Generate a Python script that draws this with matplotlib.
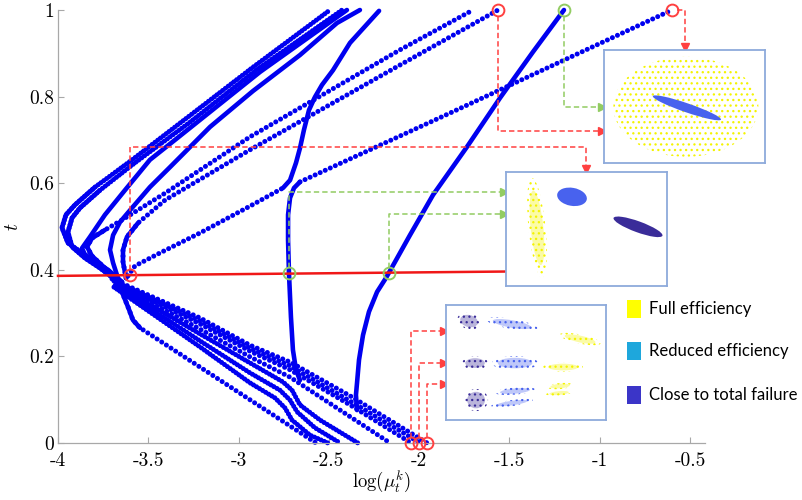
import matplotlib
matplotlib.use('Agg')
import matplotlib.pyplot as plt
from matplotlib.patches import Ellipse, Rectangle

plt.rcParams['mathtext.fontset'] = 'cm'
plt.rcParams['axes.unicode_minus'] = False
plt.rcParams['hatch.linewidth'] = 0.9

BLUE = '#0000f0'
RED = '#ff4040'
GREEN = '#92cc62'
FRAME = '#8eaadb'

# ---- trajectories: x = log(mu_t^k), t ----
# upper branches (from the crossing near t~0.38 up to t = 1)
a_x = [-3.695, -3.778, -3.867, -3.945, -3.978, -3.956, -3.906, -3.795, -3.590, -3.286, -2.920, -2.494]
a_t = [0.381, 0.416, 0.439, 0.462, 0.497, 0.527, 0.550, 0.591, 0.654, 0.751, 0.868, 1.000]
b_x = [-3.679, -3.767, -3.850, -3.922, -3.945, -3.922, -3.878, -3.767, -3.574, -3.269, -2.903, -2.427]
b_t = [0.376, 0.404, 0.427, 0.453, 0.487, 0.520, 0.543, 0.584, 0.647, 0.741, 0.861, 1.000]
c_x = [-3.657, -3.723, -3.795, -3.850, -3.867, -3.823, -3.740, -3.629, -3.491, -3.352, -2.881, -2.400]
c_t = [0.376, 0.400, 0.418, 0.434, 0.450, 0.476, 0.527, 0.584, 0.654, 0.700, 0.857, 1.000]
d_x = [-3.646, -3.740, -3.812, -3.839, -3.812, -3.740, -3.646, -3.407, -2.937, -2.106, -1.702]
d_t = [0.372, 0.404, 0.432, 0.453, 0.473, 0.492, 0.515, 0.577, 0.707, 0.908, 1.000]
e_x = [-3.668, -3.695, -3.712, -3.695, -3.657, -3.590, -3.491, -3.380, -3.158, -2.920, -2.660, -2.455, -2.328]
e_t = [0.381, 0.416, 0.446, 0.480, 0.510, 0.543, 0.591, 0.637, 0.730, 0.813, 0.896, 0.970, 1.000]
f_x = [-3.623, -3.640, -3.640, -3.618, -3.557, -3.407, -2.937, -2.106, -1.563]
f_t = [0.381, 0.418, 0.446, 0.476, 0.508, 0.561, 0.677, 0.873, 1.000]
g_dot_x = [-3.612, -3.574, -3.435, -3.214, -2.937, -2.754]
g_dot_t = [0.386, 0.409, 0.439, 0.485, 0.547, 0.589]
g_s_x = [-2.754, -2.715, -2.682, -2.660, -2.638, -2.610, -2.577, -2.538, -2.477, -2.383, -2.222]
g_s_t = [0.589, 0.607, 0.647, 0.681, 0.723, 0.769, 0.799, 0.827, 0.861, 0.924, 0.998]
h_v_x = [-2.660, -2.682, -2.699, -2.710, -2.721, -2.726, -2.726, -2.715, -2.693, -2.660]
h_v_t = [0.145, 0.169, 0.215, 0.291, 0.393, 0.469, 0.527, 0.566, 0.589, 0.603]
h_dot_x = [-2.660, -1.829, -0.600]
h_dot_t = [0.603, 0.762, 1.000]
i_x = [-2.344, -2.350, -2.344, -2.333, -2.311, -2.278, -2.233, -2.184, -2.134, -2.051, -1.923,
       -1.735, -1.552, -1.370, -1.198]
i_t = [0.076, 0.111, 0.139, 0.192, 0.249, 0.303, 0.349, 0.381, 0.418, 0.480, 0.573,
       0.684, 0.797, 0.903, 1.000]

# lower branches (from the crossing down to t = 0)
l1_x = [-3.695, -3.657, -3.612, -3.585, -3.546, -2.571]
l1_t = [0.381, 0.360, 0.314, 0.284, 0.266, 0.000]
q1_x = [-3.701, -3.214, -2.937, -2.715, -2.383, -1.956]
q1_t = [0.379, 0.289, 0.226, 0.187, 0.109, 0.000]
q2_x = [-3.690, -3.214, -2.937, -2.715, -2.383, -1.995]
q2_t = [0.374, 0.282, 0.219, 0.178, 0.097, 0.000]
q3_x = [-3.679, -3.214, -2.937, -2.715, -2.383, -2.045]
q3_t = [0.370, 0.275, 0.212, 0.169, 0.088, 0.000]
q4_x = [-3.668, -3.214, -2.937, -2.715, -2.438, -2.161]
q4_t = [0.365, 0.263, 0.199, 0.152, 0.076, 0.000]
m3_x = [-3.679, -3.214, -2.937, -2.754, -2.704, -2.660, -2.549, -2.339]
m3_t = [0.365, 0.252, 0.185, 0.141, 0.122, 0.088, 0.053, 0.000]
m2_x = [-3.684, -3.214, -2.937, -2.771, -2.715, -2.676, -2.577, -2.438]
m2_t = [0.363, 0.236, 0.162, 0.122, 0.099, 0.072, 0.035, 0.000]
m1_x = [-3.690, -3.214, -2.937, -2.798, -2.743, -2.704, -2.604, -2.505]
m1_t = [0.360, 0.222, 0.139, 0.104, 0.081, 0.053, 0.018, 0.000]

# red cut line at t ~ 0.39 and the marked points
cut_x = [-4.0, -1.519]
cut_t = [0.386, 0.396]
red_pts_x = [-3.601, -1.563, -0.600, -2.045, -2.001, -1.956]
red_pts_t = [0.388, 1.0, 1.0, 0.0, 0.0, 0.0]
green_pts_x = [-2.721, -2.167, -1.198]
green_pts_t = [0.393, 0.393, 1.0]

xticks = [-4, -3.5, -3, -2.5, -2, -1.5, -1, -0.5]
xtick_labels = ['-4', '-3.5', '-3', '-2.5', '-2', '-1.5', '-1', '-0.5']
yticks = [0, 0.2, 0.4, 0.6, 0.8, 1]
ytick_labels = ['0', '0.2', '0.4', '0.6', '0.8', '1']

legend_labels = ['Full efficiency', 'Reduced efficiency', 'Close to total failure']
legend_colors = ['#ffff00', '#1ea7dc', '#3b35c8']

fig = plt.figure(figsize=(8.03, 5.0), dpi=100)
ax = fig.add_axes([58 / 803, 57 / 500, 647 / 803, 433 / 500])
ax.set_xlim(-4, -0.417)
ax.set_ylim(0, 1)
for s in ['top', 'right']:
    ax.spines[s].set_visible(False)
for s in ['left', 'bottom']:
    ax.spines[s].set_color('#a8a8a8')
    ax.spines[s].set_linewidth(0.9)
ax.tick_params(direction='in', length=4, color='#a8a8a8', labelsize=14)
ax.tick_params(axis='x', pad=6.5)
ax.tick_params(axis='y', pad=3)
ax.set_xticks(xticks)
ax.set_xticklabels(xtick_labels, fontfamily='cmr10')
ax.set_yticks(yticks)
ax.set_yticklabels(ytick_labels, fontfamily='cmr10')
ax.set_xlabel(r'$\log(\mu_t^k)$', fontsize=13.5, labelpad=0)
ax.set_ylabel(r'$t$', fontsize=14, labelpad=5)


def trace(x, t, style, n_solid=0):
    if style == 'solid':
        ax.plot(x, t, color=BLUE, lw=3.3, solid_capstyle='round', solid_joinstyle='round', clip_on=False)
    else:
        gap = 1.1 if style == 'dot' else 0.7
        ax.plot(x, t, color=BLUE, lw=3.6, ls=(0, (0.01, gap)), dash_capstyle='round', clip_on=False)
    if n_solid:
        ax.plot(x[:n_solid], t[:n_solid], color=BLUE, lw=3.3, solid_capstyle='round',
                solid_joinstyle='round', clip_on=False)


trace(a_x, a_t, 'tight', 8)
trace(b_x, b_t, 'tight', 8)
trace(c_x, c_t, 'solid')
trace(d_x, d_t, 'dot', 6)
trace(e_x, e_t, 'solid')
trace(f_x, f_t, 'dot', 5)
trace(g_dot_x, g_dot_t, 'dot')
trace(g_s_x, g_s_t, 'solid')
trace(h_v_x, h_v_t, 'solid')
trace(h_dot_x, h_dot_t, 'dot')
trace(i_x, i_t, 'solid')
trace(l1_x, l1_t, 'dot', 5)
for qx, qt in [(q1_x, q1_t), (q2_x, q2_t), (q3_x, q3_t), (q4_x, q4_t)]:
    trace(qx, qt, 'dot')
for mx, mt in [(m1_x, m1_t), (m2_x, m2_t), (m3_x, m3_t)]:
    trace(mx, mt, 'tight')

ax.plot(cut_x, cut_t, color='#f01818', lw=1.8, clip_on=False, zorder=4)
ax.plot(red_pts_x, red_pts_t, 'o', ms=8.5, mfc='none', mec=RED, mew=1.4, clip_on=False, zorder=6)
ax.plot(green_pts_x, green_pts_t, 'o', ms=8.5, mfc='none', mec=GREEN, mew=1.4, clip_on=False, zorder=6)


def connector(xs, ts, color, head):
    ax.plot(xs, ts, color=color, lw=1.1, ls=(0, (3.5, 2)), clip_on=False, zorder=5)
    ax.plot(xs[-1], ts[-1], marker=head, ms=6, color=color, clip_on=False, zorder=5)


connector([-0.572, -0.528, -0.528], [1.0, 1.0, 0.915], RED, 'v')
connector([-1.198, -1.198, -0.99], [0.985, 0.776, 0.776], GREEN, '>')
connector([-1.563, -1.563, -0.99], [0.985, 0.721, 0.721], RED, '>')
connector([-3.601, -3.601, -1.076, -1.076], [0.400, 0.684, 0.684, 0.633], RED, 'v')
connector([-2.721, -2.721, -1.53], [0.405, 0.580, 0.580], GREEN, '>')
connector([-2.167, -2.167, -1.53], [0.405, 0.529, 0.529], GREEN, '>')
connector([-2.045, -2.045, -1.862], [0.012, 0.259, 0.259], RED, '>')
connector([-2.001, -2.001, -1.862], [0.012, 0.185, 0.185], RED, '>')
connector([-1.956, -1.956, -1.862], [0.012, 0.136, 0.136], RED, '>')

# legend
for k, (lab, col) in enumerate(zip(legend_labels, legend_colors)):
    tc = [0.309, 0.212, 0.110][k]
    ax.add_patch(Rectangle((-0.849, tc - 0.021), 0.078, 0.042, facecolor=col, edgecolor='none', clip_on=False))
    ax.text(-0.727, tc, lab, fontsize=12, family='Lato', va='center', ha='left', clip_on=False)

# ---- inset snapshots of the clusters ----
# (u, v, width, height, angle, colour, hatch) in inset pixel units
inset1_box = (-0.977, -0.085, 0.647, 0.908)
inset1_shapes = [(82, 56, 145, 100, 0, '#f4f400', '...'),
                 (83, 55, 72, 9, -19, '#4862ee', None)]
inset2_box = (-1.519, -0.627, 0.363, 0.626)
inset2_shapes = [(31, 58, 100, 17, 95.8, '#f4f400', '...'),
                 (66, 89, 30, 18, -10, '#4862ee', None),
                 (132, 59, 52, 11, -20, '#3a2c99', None)]
inset3_box = (-1.851, -0.965, 0.053, 0.319)
inset3_shapes = [(23, 99, 24, 16, -15, '#3a2c99', '...'),
                 (66, 96, 52, 10, -10, '#4862ee', '...'),
                 (134, 81, 42, 9, -12, '#f4f400', '...'),
                 (29, 57, 26, 13, 0, '#3a2c99', '...'),
                 (69, 57, 46, 14, 0, '#4862ee', '...'),
                 (117, 53, 40, 9, 0, '#f4f400', '...'),
                 (30, 20, 24, 22, 0, '#3a2c99', '...'),
                 (69, 29, 40, 7, 5, '#4862ee', '...'),
                 (66, 17, 42, 6, 8, '#4862ee', '...'),
                 (114, 34, 26, 6, 5, '#f4f400', '...'),
                 (113, 27, 26, 5, 5, '#f4f400', '...')]


def inset(box, shapes, fill_clouds=True):
    x0, x1, t0, t1 = box
    d0 = ax.transData.transform((x0, t0))
    d1 = ax.transData.transform((x1, t1))
    f0 = fig.transFigure.inverted().transform(d0)
    f1 = fig.transFigure.inverted().transform(d1)
    iax = fig.add_axes([f0[0], f0[1], f1[0] - f0[0], f1[1] - f0[1]])
    iax.set_xlim(0, d1[0] - d0[0])
    iax.set_ylim(0, d1[1] - d0[1])
    iax.set_xticks([])
    iax.set_yticks([])
    for s in iax.spines.values():
        s.set_color(FRAME)
        s.set_linewidth(1.3)
    for u, v, w, h, ang, col, hatch in shapes:
        if hatch:
            iax.add_patch(Ellipse((u, v), w, h, angle=ang, facecolor='none', edgecolor=col, hatch=hatch, lw=0))
            if fill_clouds:
                iax.add_patch(Ellipse((u, v), w * 0.75, h * 0.75, angle=ang, facecolor=col, alpha=0.35, lw=0))
        else:
            iax.add_patch(Ellipse((u, v), w, h, angle=ang, facecolor=col, edgecolor='none'))
    return iax


inset(inset1_box, inset1_shapes, fill_clouds=False)
inset(inset2_box, inset2_shapes)
inset(inset3_box, inset3_shapes)

fig.savefig('out.png', dpi=100)
